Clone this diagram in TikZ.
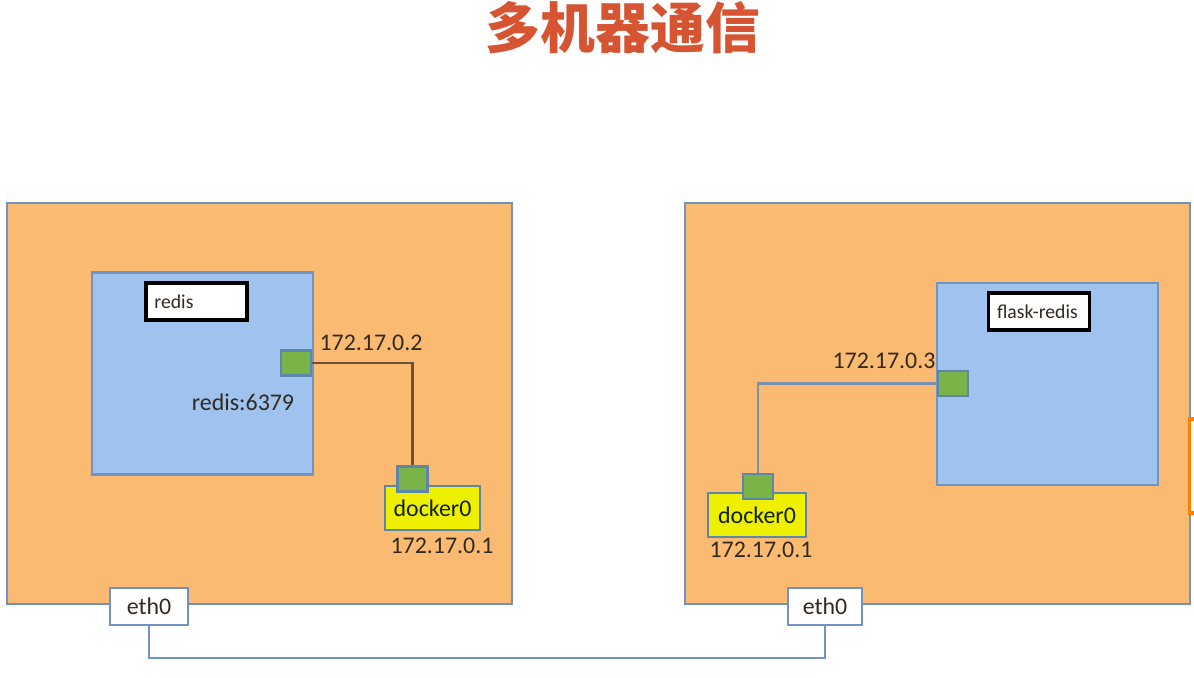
\documentclass[tikz,border=0pt]{standalone}
\usepackage{fontspec}
\setmainfont{Carlito}
\newfontfamily\cjkfont{Noto Sans CJK SC}[BoldFont={* Black}]
\usetikzlibrary{positioning, calc}

\definecolor{hostfill}{RGB}{251,186,114}
\definecolor{hostline}{RGB}{112,146,196}
\definecolor{ctrfill}{RGB}{159,194,238}
\definecolor{portfill}{RGB}{122,180,72}
\definecolor{portline}{RGB}{90,135,170}
\definecolor{dockfill}{RGB}{238,240,0}
\definecolor{titlered}{RGB}{214,84,50}
\definecolor{inktext}{RGB}{50,42,32}
\definecolor{wirebrown}{RGB}{110,80,50}
\definecolor{wireblue}{RGB}{120,145,170}

\begin{document}
\begin{tikzpicture}[x=0.025cm, y=-0.025cm,
    host/.style={draw=hostline, fill=hostfill, line width=2pt, minimum width=12.625cm, minimum height=10.025cm},
    ctr/.style={draw=hostline, fill=ctrfill, line width=2pt, minimum width=5.525cm, minimum height=5.05cm},
    tag/.style={draw=black, fill=white, line width=2.4pt, minimum height=0.925cm, inner xsep=6pt, font=\fontsize{14}{16}\selectfont, text=inktext},
    port/.style={draw=portline, fill=portfill, line width=1.6pt, minimum width=0.75cm, minimum height=0.63cm, inner sep=0pt},
    dock/.style={draw=portline, fill=dockfill, line width=1.6pt, minimum height=1.1cm, inner sep=0pt, font=\fontsize{17}{20}\selectfont, text=inktext!80!green!40!black},
    eth/.style={draw=hostline, fill=white, line width=2pt, minimum height=0.925cm, inner sep=0pt, font=\fontsize{17}{20}\selectfont, text=inktext},
    ip/.style={font=\fontsize{17}{20}\selectfont, text=inktext, inner sep=0pt}]
        \useasboundingbox (0,0) rectangle (1194,677);

        % --- TITLE ---
        \node[font=\cjkfont\bfseries\fontsize{39}{44}\selectfont, text=titlered] (title) at (623,28) {多机器通信};

        % --- HOSTS ---
        \node[host] (hostL) at (259.5,403.5) {};
        \node[host] (hostR) at (937.5,403.5) {};

        % --- CONTAINERS ---
        \node[ctr] (ctrL) at (202.5,373.5) {};
        \node[ctr] (ctrR) at (1047.5,384) {};
        \node[tag, text width=2.1cm] (tagL) at (196.5,301.5) {redis};
        \node[tag, text width=2.1cm] (tagR) at (1039,311.5) {flask-redis};

        % --- DOCKER0 BRIDGES ---
        \node[dock, minimum width=2.375cm] (dockL) at (432.5,508) {docker0};
        \node[dock, minimum width=2.45cm] (dockR) at (757,515) {docker0};

        % --- WIRES ---
        \coordinate (bus) at (488,658);
        \node[port] (portL) at (296,363) {};
        \node[port] (portR) at (953,383.5) {};
        \node[port] (dportL) at (412.5,479) {};
        \node[port] (dportR) at (758,486.5) {};
        \draw[wirebrown, line width=1.6pt] (portL.east) -| (dportL.north);
        \draw[wireblue, line width=2pt] (portR.west) -| (dportR.north);
        \node[port] at (portL) {};
        \node[port] at (portR) {};
        \node[port] at (dportL) {};
        \node[port] at (dportR) {};

        % --- ETH0 ---
        \node[eth, minimum width=1.95cm] (ethL) at (149,606.5) {eth0};
        \node[eth, minimum width=1.85cm] (ethR) at (825,606.5) {eth0};
        \draw[hostline, line width=2pt] (ethL.south) |- (bus) -| (ethR.south);

        % --- ADDRESSES ---
        \node[ip] (ipL) at (371,343) {172.17.0.2};
        \node[ip] (svcL) at (243,402) {redis:6379};
        \node[ip] (gwL) at (442,546) {172.17.0.1};
        \node[ip] (ipR) at (884,361) {172.17.0.3};
        \node[ip] (gwR) at (761,550) {172.17.0.1};

        % edge of a box cut off on the right
        \draw[orange, line width=2.5pt] (1196,419) -- (1189.5,419) -- (1189.5,513) -- (1196,513);
\end{tikzpicture}
\end{document}
